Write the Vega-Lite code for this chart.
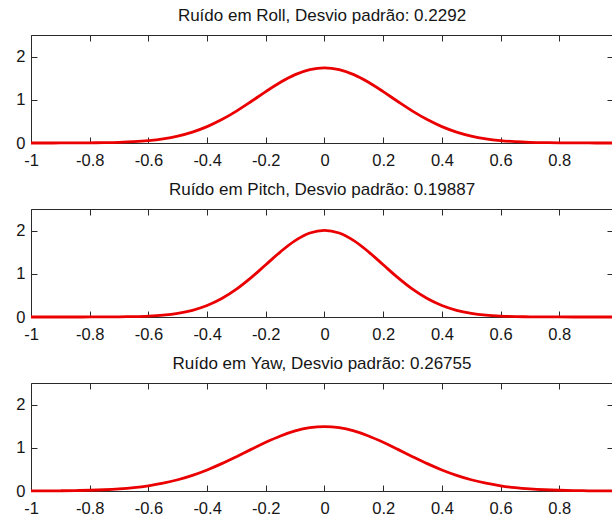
{
 "$schema": "https://vega.github.io/schema/vega-lite/v6.json",
 "autosize": {"type": "pad"},
 "padding": {"left": 15, "top": 6, "right": 0, "bottom": 0},
 "bounds": "flush",
 "spacing": 66,
 "background": "white",
 "config": {
  "view": {"stroke": null},
  "font": "Liberation Sans",
  "axis": {"domainColor": "#2a2a2a", "tickColor": "#2a2a2a", "labelColor": "#151515", "labelFont": "Liberation Sans", "labelFontSize": 16.5, "grid": false, "tickSize": -6, "domainWidth": 1, "tickWidth": 1, "title": null, "labelFlush": false, "labelOverlap": false},
  "axisX": {"labelPadding": 15},
  "axisY": {"labelPadding": 12},
  "title": {"fontSize": 17, "fontWeight": "normal", "color": "#151515", "font": "Liberation Sans", "offset": 10, "anchor": "middle"},
  "line": {"color": "#ea0000", "strokeWidth": 2.8, "interpolate": "monotone", "clip": true}
 },
 "datasets": {
  "roll": [
   {"x": -1, "y": 0.0001}, {"x": -0.95, "y": 0.0003}, {"x": -0.9, "y": 0.0008}, {"x": -0.85, "y": 0.0018}, {"x": -0.8, "y": 0.0039}, {"x": -0.75, "y": 0.0082}, {"x": -0.7, "y": 0.0164}, {"x": -0.65, "y": 0.0312}, {"x": -0.6, "y": 0.0566}, {"x": -0.55, "y": 0.0978}, {"x": -0.5, "y": 0.1612}, {"x": -0.45, "y": 0.2533}, {"x": -0.4, "y": 0.3796}, {"x": -0.35, "y": 0.5424}, {"x": -0.3, "y": 0.739}, {"x": -0.25, "y": 0.9601}, {"x": -0.2, "y": 1.1895}, {"x": -0.15, "y": 1.405}, {"x": -0.1, "y": 1.5825}, {"x": -0.05, "y": 1.6996},
   {"x": 0, "y": 1.7405},
   {"x": 0.05, "y": 1.6996}, {"x": 0.1, "y": 1.5825}, {"x": 0.15, "y": 1.405}, {"x": 0.2, "y": 1.1895}, {"x": 0.25, "y": 0.9601}, {"x": 0.3, "y": 0.739}, {"x": 0.35, "y": 0.5424}, {"x": 0.4, "y": 0.3796}, {"x": 0.45, "y": 0.2533}, {"x": 0.5, "y": 0.1612}, {"x": 0.55, "y": 0.0978}, {"x": 0.6, "y": 0.0566}, {"x": 0.65, "y": 0.0312}, {"x": 0.7, "y": 0.0164}, {"x": 0.75, "y": 0.0082}, {"x": 0.8, "y": 0.0039}, {"x": 0.85, "y": 0.0018}, {"x": 0.9, "y": 0.0008}, {"x": 0.95, "y": 0.0003}, {"x": 1, "y": 0.0001}
  ],
  "pitch": [
   {"x": -1, "y": 0}, {"x": -0.95, "y": 0}, {"x": -0.9, "y": 0.0001}, {"x": -0.85, "y": 0.0002}, {"x": -0.8, "y": 0.0006}, {"x": -0.75, "y": 0.0016}, {"x": -0.7, "y": 0.0041}, {"x": -0.65, "y": 0.0096}, {"x": -0.6, "y": 0.0212}, {"x": -0.55, "y": 0.0438}, {"x": -0.5, "y": 0.0851}, {"x": -0.45, "y": 0.155}, {"x": -0.4, "y": 0.2654}, {"x": -0.35, "y": 0.4263}, {"x": -0.3, "y": 0.643}, {"x": -0.25, "y": 0.9103}, {"x": -0.2, "y": 1.2098}, {"x": -0.15, "y": 1.5094}, {"x": -0.1, "y": 1.7678}, {"x": -0.05, "y": 1.9436},
   {"x": 0, "y": 2.006},
   {"x": 0.05, "y": 1.9436}, {"x": 0.1, "y": 1.7678}, {"x": 0.15, "y": 1.5094}, {"x": 0.2, "y": 1.2098}, {"x": 0.25, "y": 0.9103}, {"x": 0.3, "y": 0.643}, {"x": 0.35, "y": 0.4263}, {"x": 0.4, "y": 0.2654}, {"x": 0.45, "y": 0.155}, {"x": 0.5, "y": 0.0851}, {"x": 0.55, "y": 0.0438}, {"x": 0.6, "y": 0.0212}, {"x": 0.65, "y": 0.0096}, {"x": 0.7, "y": 0.0041}, {"x": 0.75, "y": 0.0016}, {"x": 0.8, "y": 0.0006}, {"x": 0.85, "y": 0.0002}, {"x": 0.9, "y": 0.0001}, {"x": 0.95, "y": 0}, {"x": 1, "y": 0}
  ],
  "yaw": [
   {"x": -1, "y": 0.0014}, {"x": -0.95, "y": 0.0027}, {"x": -0.9, "y": 0.0052}, {"x": -0.85, "y": 0.0096}, {"x": -0.8, "y": 0.0171}, {"x": -0.75, "y": 0.0293}, {"x": -0.7, "y": 0.0487}, {"x": -0.65, "y": 0.078}, {"x": -0.6, "y": 0.1206}, {"x": -0.55, "y": 0.1802}, {"x": -0.5, "y": 0.2601}, {"x": -0.45, "y": 0.3624}, {"x": -0.4, "y": 0.4877}, {"x": -0.35, "y": 0.6337}, {"x": -0.3, "y": 0.7953}, {"x": -0.25, "y": 0.9636}, {"x": -0.2, "y": 1.1277}, {"x": -0.15, "y": 1.2743}, {"x": -0.1, "y": 1.3905}, {"x": -0.05, "y": 1.4653},
   {"x": 0, "y": 1.4911},
   {"x": 0.05, "y": 1.4653}, {"x": 0.1, "y": 1.3905}, {"x": 0.15, "y": 1.2743}, {"x": 0.2, "y": 1.1277}, {"x": 0.25, "y": 0.9636}, {"x": 0.3, "y": 0.7953}, {"x": 0.35, "y": 0.6337}, {"x": 0.4, "y": 0.4877}, {"x": 0.45, "y": 0.3624}, {"x": 0.5, "y": 0.2601}, {"x": 0.55, "y": 0.1802}, {"x": 0.6, "y": 0.1206}, {"x": 0.65, "y": 0.078}, {"x": 0.7, "y": 0.0487}, {"x": 0.75, "y": 0.0293}, {"x": 0.8, "y": 0.0171}, {"x": 0.85, "y": 0.0096}, {"x": 0.9, "y": 0.0052}, {"x": 0.95, "y": 0.0027}, {"x": 1, "y": 0.0014}
  ]
 },
 "vconcat": [
  {
   "width": 582, "height": 108,
   "title": {"text": "Ruído em Roll, Desvio padrão: 0.2292"},
   "data": {"name": "roll"},
   "layer": [
    {"mark": {"type": "line"}, "encoding": {
     "x": {"field": "x", "type": "quantitative", "scale": {"domain": [-1, 0.983], "nice": false, "zero": false}, "axis": {"values": [-1, -0.8, -0.6, -0.4, -0.2, 0, 0.2, 0.4, 0.6, 0.8], "labelExpr": "'' + datum.value"}},
     "y": {"field": "y", "type": "quantitative", "scale": {"domain": [0, 2.5], "nice": false}, "axis": {"values": [0, 1, 2], "labelExpr": "'' + datum.value"}}}},
    {"mark": {"type": "line", "strokeOpacity": 0}, "encoding": {
     "x": {"field": "x", "type": "quantitative", "scale": {"domain": [-1, 0.983], "nice": false, "zero": false}, "axis": {"orient": "top", "labels": false, "values": [-1, -0.8, -0.6, -0.4, -0.2, 0, 0.2, 0.4, 0.6, 0.8]}},
     "y": {"field": "y", "type": "quantitative", "scale": {"domain": [0, 2.5], "nice": false}, "axis": {"orient": "right", "labels": false, "domain": false, "values": [0, 1, 2]}}}}
   ],
   "resolve": {"axis": {"x": "independent", "y": "independent"}}
  },
  {
   "width": 582, "height": 108,
   "title": {"text": "Ruído em Pitch, Desvio padrão: 0.19887"},
   "data": {"name": "pitch"},
   "layer": [
    {"mark": {"type": "line"}, "encoding": {
     "x": {"field": "x", "type": "quantitative", "scale": {"domain": [-1, 0.983], "nice": false, "zero": false}, "axis": {"values": [-1, -0.8, -0.6, -0.4, -0.2, 0, 0.2, 0.4, 0.6, 0.8], "labelExpr": "'' + datum.value"}},
     "y": {"field": "y", "type": "quantitative", "scale": {"domain": [0, 2.5], "nice": false}, "axis": {"values": [0, 1, 2], "labelExpr": "'' + datum.value"}}}},
    {"mark": {"type": "line", "strokeOpacity": 0}, "encoding": {
     "x": {"field": "x", "type": "quantitative", "scale": {"domain": [-1, 0.983], "nice": false, "zero": false}, "axis": {"orient": "top", "labels": false, "values": [-1, -0.8, -0.6, -0.4, -0.2, 0, 0.2, 0.4, 0.6, 0.8]}},
     "y": {"field": "y", "type": "quantitative", "scale": {"domain": [0, 2.5], "nice": false}, "axis": {"orient": "right", "labels": false, "domain": false, "values": [0, 1, 2]}}}}
   ],
   "resolve": {"axis": {"x": "independent", "y": "independent"}}
  },
  {
   "width": 582, "height": 108,
   "title": {"text": "Ruído em Yaw, Desvio padrão: 0.26755"},
   "data": {"name": "yaw"},
   "layer": [
    {"mark": {"type": "line"}, "encoding": {
     "x": {"field": "x", "type": "quantitative", "scale": {"domain": [-1, 0.983], "nice": false, "zero": false}, "axis": {"values": [-1, -0.8, -0.6, -0.4, -0.2, 0, 0.2, 0.4, 0.6, 0.8], "labelExpr": "'' + datum.value"}},
     "y": {"field": "y", "type": "quantitative", "scale": {"domain": [0, 2.5], "nice": false}, "axis": {"values": [0, 1, 2], "labelExpr": "'' + datum.value"}}}},
    {"mark": {"type": "line", "strokeOpacity": 0}, "encoding": {
     "x": {"field": "x", "type": "quantitative", "scale": {"domain": [-1, 0.983], "nice": false, "zero": false}, "axis": {"orient": "top", "labels": false, "values": [-1, -0.8, -0.6, -0.4, -0.2, 0, 0.2, 0.4, 0.6, 0.8]}},
     "y": {"field": "y", "type": "quantitative", "scale": {"domain": [0, 2.5], "nice": false}, "axis": {"orient": "right", "labels": false, "domain": false, "values": [0, 1, 2]}}}}
   ],
   "resolve": {"axis": {"x": "independent", "y": "independent"}}
  }
 ]
}
